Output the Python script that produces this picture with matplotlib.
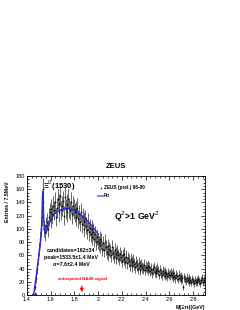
import numpy as np
import matplotlib.pyplot as plt
from matplotlib.ticker import MultipleLocator

plt.rcParams['font.family'] = ['Liberation Sans', 'DejaVu Sans']

# histogram: 7.5 MeV bins, first bin starts at 1.46 GeV
bin_start = 1.46
bin_width = 0.0075
counts = [
    2, 12, 25, 40, 55, 70, 85, 100,
    118, 160, 140, 100, 95, 105,
    110, 100, 118, 125, 115, 130, 122, 135,
    128, 140, 118, 132, 145, 125, 138, 150, 128, 135, 142, 120,
    148, 130, 138, 125, 145, 132, 128, 140, 122, 135, 130, 125,
    128, 118, 132, 115, 122, 110, 125, 108, 118, 112, 100, 115, 105, 98,
    110, 95, 102, 92, 100, 88, 96, 85, 92, 80, 88, 82, 78,
    85, 75, 82, 70, 78, 68, 80, 72, 65, 74, 62, 70, 66, 60,
    72, 64, 58, 68, 62, 56, 65, 60, 55, 62, 58, 52, 60,
    55, 62, 50, 58, 48, 56, 52, 45, 54, 50, 44, 52, 47, 42,
    50, 45, 40, 48, 44, 38, 46, 42, 40, 45, 38, 43, 41,
    44, 38, 42, 36, 40, 34, 39, 42, 35, 37, 33, 40, 36, 31,
    38, 34, 30, 36, 33, 29, 35, 32, 28, 34, 31, 30, 33,
    30, 27, 33, 29, 25, 31, 28, 24, 30, 26, 22, 28, 25, 12,
    27, 24, 21, 26, 23, 20, 25, 22, 19, 24, 21, 18, 23, 20,
    22, 19, 24, 21, 18, 22, 25, 20, 23, 26, 21, 24,
]

# fit curve (signal + background)
fit_x = [1.456, 1.48, 1.50, 1.51, 1.52, 1.525, 1.53, 1.533, 1.536, 1.54, 1.545,
         1.55, 1.56, 1.58, 1.60, 1.62, 1.65, 1.70, 1.75, 1.80, 1.85, 1.90, 1.95, 2.00]
fit_y = [0, 32, 60, 75, 92, 115, 148, 157, 148, 120, 100,
         95, 98, 106, 114, 120, 126, 130, 131, 128, 122, 114, 104, 92]

na49_mass = 1.862

counts = np.array(counts, dtype=float)
centers = bin_start + bin_width * (np.arange(len(counts)) + 0.5)
errors = 1.3 * np.sqrt(counts)

fig = plt.figure(figsize=(2.4, 3.1), dpi=100)
ax = fig.add_axes([27 / 240, 15 / 310, 178 / 240, 119 / 310])

ax.errorbar(centers, counts, yerr=errors, fmt='s', ms=1.1, mew=0,
            color='black', ecolor='0.3', elinewidth=0.6, capsize=0, zorder=2)
ax.plot(fit_x, fit_y, color='#2a2ad8', lw=1.0, zorder=3)

ax.set_xlim(1.4, 2.9)
ax.set_ylim(0, 180)
ax.xaxis.set_major_locator(MultipleLocator(0.2))
ax.xaxis.set_minor_locator(MultipleLocator(0.04))
ax.yaxis.set_major_locator(MultipleLocator(20))
ax.yaxis.set_minor_locator(MultipleLocator(5))
ax.xaxis.set_major_formatter(plt.FuncFormatter(lambda v, p: f'{v:g}'))
ax.tick_params(which='both', direction='in', top=True, right=True,
               labelsize=4, width=0.5, pad=1.5)
ax.tick_params(which='major', length=3)
ax.tick_params(which='minor', length=1.5)
for s in ax.spines.values():
    s.set_linewidth(0.6)

fig.text(116 / 240, 1 - 166 / 310, 'ZEUS', ha='center', va='center',
         fontsize=5.5, fontweight='bold')
fig.text(8 / 240, 1 - 181 / 310, 'Entries / 7.5MeV', rotation=90,
         ha='center', va='top', fontsize=3.8, fontweight='bold')
fig.text(205 / 240, 1 - 307 / 310, 'M(\u039e\u03c0)(GeV)', ha='right',
         va='center', fontsize=3.8, fontweight='bold')

ax.text(1.535, 165, '\u039e$^0$(1530)', fontsize=5.5, fontweight='bold',
        ha='left', va='center')

# legend
ax.plot([2.02], [162], 's', ms=0.9, mew=0, color='black')
ax.text(2.045, 162, 'ZEUS (prel.) 96-00', fontsize=3.4, fontweight='bold',
        va='center')
ax.plot([2.0, 2.04], [150, 150], color='#8c8cf0', lw=1.5)
ax.text(2.045, 150, 'Fit', fontsize=3.4, fontweight='bold', va='center')

ax.text(2.33, 118, 'Q$^2$>1 GeV$^2$', fontsize=6.2, fontweight='bold',
        ha='center', va='center')

ax.text(1.77, 67.5, 'candidates=162\u00b134', fontsize=3.8, fontweight='bold',
        ha='center', va='center')
ax.text(1.77, 57, 'peak=1533.5\u00b11.4 MeV', fontsize=3.8, fontweight='bold',
        ha='center', va='center')
ax.text(1.77, 46.5, '\u03c3=7.6\u00b12.4 MeV', fontsize=3.8, fontweight='bold',
        ha='center', va='center')

ax.text(1.87, 24, 'anticipated NA49 signal', fontsize=3.2, color='red',
        ha='center', va='center', fontweight='bold')
ax.annotate('', xy=(na49_mass, 0), xytext=(na49_mass, 18),
            arrowprops=dict(arrowstyle='-|>', color='red', lw=0.8,
                            mutation_scale=5))

fig.savefig('out.png', dpi=100)
